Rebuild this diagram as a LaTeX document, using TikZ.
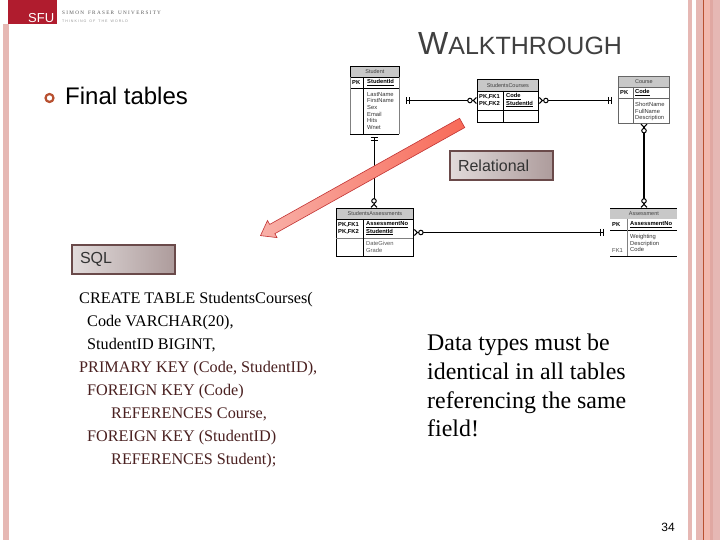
\documentclass[tikz,border=0pt]{standalone}
\usepackage{fontspec}
\setmainfont{Liberation Sans}
\newfontfamily\serifcode{Liberation Serif}
\usepackage{tikz}
\usetikzlibrary{shapes.arrows,arrows.meta,positioning,calc}

\definecolor{sfured}{HTML}{B01C2E}
\definecolor{stripe}{HTML}{E6B8B4}
\definecolor{stripelight}{HTML}{F2B8AE}
\definecolor{stripedark}{HTML}{E0A8A2}
\definecolor{stripeline}{HTML}{B85030}
\definecolor{labelline}{HTML}{6A4A4A}
\definecolor{headgray}{HTML}{C8C8C8}
\definecolor{salmonstart}{HTML}{F8B0A8}
\definecolor{salmonend}{HTML}{F86A58}
\definecolor{codebrown}{HTML}{4A2020}

\tikzset{
  onefoot/.tip={Bar[width=7pt,sep=1.5pt]Bar[width=7pt,sep=6pt]},
  onenear/.tip={Bar[width=7pt,sep=1.5pt]Bar[width=7pt,sep=3pt]},
  manyfoot/.tip={Circle[open,fill=white,length=5.5pt,width=5.5pt,line width=1pt]Straight Barb[reversed,length=3pt,width=6pt,line width=1.1pt]},
}

\begin{document}
\begin{tikzpicture}[
  x=1pt, y=-1pt,
  tabhead/.style={rectangle, draw=black, line width=0.8pt, fill=headgray, anchor=north west, inner sep=0pt, font=\fontsize{5.5}{6}\selectfont, text=black!75},
  tabkey/.style={font=\fontsize{5.8}{7.2}\selectfont, inner sep=0pt, anchor=west, align=left},
  tabtxt/.style={font=\fontsize{5.8}{6.7}\selectfont, inner sep=0pt, anchor=north west, align=left, text=black!80},
  tabline/.style={line width=0.8pt},
  labelbox/.style={rectangle, draw=labelline, line width=2pt, left color=labelline!20, right color=labelline!55!white, anchor=north west, text width=87pt, inner xsep=8pt, inner ysep=0pt, minimum height=29pt, align=left, font=\fontsize{16}{18}\selectfont, text=black!80},
  link/.style={line width=1.2pt},
]
  % slide background
  \path[use as bounding box] (0,0) rectangle (720,540);
  \fill[white] (0,0) rectangle (720,540);
  \fill[stripe] (3,24) rectangle (9,540);
  \fill[stripe] (688,0) rectangle (692,540);
  \fill[stripe] (696,0) rectangle (720,540);
  \fill[stripelight] (703,0) rectangle (710,540);
  \fill[stripedark] (710,0) rectangle (713,540);
  \draw[stripeline, line width=0.7pt] (703,0) -- (703,540);

  % logo
  \node[rectangle, fill=sfured, anchor=north west, minimum width=49pt, minimum height=24pt, inner sep=0pt] (logo) at (8,0) {};
  \node[anchor=south east, text=white, font=\fontsize{13}{15}\selectfont, inner sep=0pt] (sfu) at ([xshift=-3pt,yshift=1.5pt]logo.south east) {SFU};
  \node[anchor=west, text=black!65, font=\serifcode\fontsize{5.2}{6}\selectfont, inner sep=0pt] (sfuname) at (62,12.5) {S I M O N \ \ F R A S E R \ \ U N I V E R S I T Y};
  \node[anchor=west, text=black!40, font=\fontsize{3.6}{4}\selectfont, inner sep=0pt] (sfusub) at (62,21.5) {T H I N K I N G \ \ O F \ \ T H E \ \ W O R L D};

  % title and bullet
  \node[anchor=base west, inner sep=0pt, text=black!75] (title) at (418,55) {\fontsize{32}{34}\selectfont W\fontsize{25}{34}\selectfont ALKTHROUGH};
  \node[circle, draw=stripeline, line width=2.2pt, minimum size=8pt, inner sep=0pt] (bullet) at (49.5,98) {};
  \node[anchor=base west, inner sep=0pt, font=\fontsize{24}{28}\selectfont] (final) at (65,105) {Final tables};

  % Student table
  \node[tabhead, minimum width=49pt, minimum height=11pt] (student) at (350,66) {Student};
  \node[rectangle, anchor=north west, minimum width=49pt, minimum height=57pt, inner sep=0pt] (studentb) at (350,77) {};
  \draw[tabline] (studentb.south west) -- (studentb.south east);
  \draw[tabline] (350,88) -- (399,88);
  \draw[tabline] (363,77) -- (363,134);
  \draw[tabline,black!50] (350,77) -- (350,134) (399,77) -- (399,134);
  \node[tabkey] (studentpk) at (352,82.5) {\textbf{PK}};
  \node[tabkey] (studentid) at (367,82.5) {\textbf{\underline{StudentId}}};
  \node[tabtxt] (studentat) at (367,92) {LastName\\FirstName\\Sex\\Email\\Hits\\Wnet};

  % StudentsCourses table
  \node[tabhead, minimum width=61pt, minimum height=12pt] (stucou) at (477,79) {StudentsCourses};
  \node[rectangle, draw=black, line width=0.8pt, anchor=north west, minimum width=61pt, minimum height=31pt, inner sep=0pt] (stucoub) at (477,91) {};
  \draw[tabline] (477,110) -- (538,110);
  \draw[tabline] (503,91) -- (503,122);
  \node[tabkey] (stucoupk) at (479,100.5) {\textbf{PK,FK1}\\\textbf{PK,FK2}};
  \node[tabkey] (stucouid) at (506,100.5) {\textbf{\underline{Code}}\\\textbf{\underline{StudentId}}};

  % Course table
  \node[tabhead, draw=black!60, minimum width=51pt, minimum height=11pt] (course) at (618,76) {Course};
  \node[rectangle, draw=black!60, line width=0.6pt, anchor=north west, minimum width=51pt, minimum height=36pt, inner sep=0pt] (courseb) at (618,87) {};
  \draw[black!60, line width=0.6pt] (618,98) -- (669,98) (633,87) -- (633,123);
  \node[tabkey] (coursepk) at (620,92.5) {\textbf{PK}};
  \node[tabkey] (codeid) at (635,92.5) {\textbf{\underline{Code}}};
  \node[tabtxt] (courseat) at (635,102) {ShortName\\FullName\\Description};

  % StudentsAssessments table
  \node[tabhead, minimum width=77pt, minimum height=11pt] (stuass) at (336,208) {StudentsAssessments};
  \node[rectangle, draw=black, line width=0.8pt, anchor=north west, minimum width=77pt, minimum height=37pt, inner sep=0pt] (stuassb) at (336,219) {};
  \draw[tabline, black!50] (336,238) -- (413,238);
  \draw[tabline] (363,219) -- (363,256);
  \node[tabkey] (stuasspk) at (338,228.5) {\textbf{PK,FK1}\\\textbf{PK,FK2}};
  \node[tabkey] (stuassid) at (366,228.5) {\textbf{\underline{AssessmentNo}}\\\textbf{\underline{StudentId}}};
  \node[tabtxt, text=black!65] (stuassat) at (366,241) {DateGiven\\Grade};

  % Assessment table
  \node[tabhead, draw=none, minimum width=67pt, minimum height=11pt] (assess) at (610,208) {Assessment};
  \node[rectangle, anchor=north west, minimum width=67pt, minimum height=37pt, inner sep=0pt] (assessb) at (610,219) {};
  \draw[tabline] (610,208) -- (677,208) (610,230) -- (677,230) (610,256) -- (677,256);
  \draw[black!50, line width=0.6pt] (627,219) -- (627,256);
  \node[tabkey] (assesspk) at (612,224.5) {\textbf{PK}};
  \node[tabkey] (assessid) at (630,224.5) {\textbf{\underline{AssessmentNo}}};
  \node[tabtxt] (assessat) at (630,234) {Weighting\\Description\\Code};
  \node[tabkey, text=black!70] (assessfk) at (612,251) {FK1};

  % links between tables
  \draw[link, onefoot-manyfoot] (student.east |- 0,100.5) -- (stucou.west |- 0,100.5);
  \draw[link, onefoot-manyfoot] (course.west |- 0,100.5) -- (stucou.east |- 0,100.5);
  \draw[link, line width=0.9pt, onenear-manyfoot] (studentb.south -| 374,0) -- (stuass.north -| 374,0);
  \draw[link, line width=1.8pt, manyfoot-manyfoot] (courseb.south -| 644,0) -- (assess.north -| 644,0);
  \draw[link, line width=1.4pt, onefoot-manyfoot] (assessb.west |- 0,232.5) -- (stuassb.east |- 0,232.5);

  % big arrow and labels
  \node[single arrow, draw=red!70!black!80, line width=0.6pt, left color=salmonstart, right color=salmonend, rotate=209.2, minimum height=231pt, inner xsep=0pt, inner ysep=5pt, single arrow head extend=4.5pt, single arrow tip angle=72] (bigarrow) at (364.5,177.5) {};
  \node[labelbox] (relational) at (449,150) {Relational};
  \node[labelbox] (sql) at (71,243.5) {SQL};

  % code and remark
  \node[anchor=north west, inner sep=0pt, align=left, font=\serifcode\fontsize{16.2}{23}\selectfont, text=black] (code) at (79,292) {CREATE TABLE StudentsCourses(\\
  \hspace*{8pt}Code VARCHAR(20),\\
  \hspace*{8pt}StudentID BIGINT,\\
  \textcolor{codebrown}{PRIMARY KEY (Code, StudentID),}\\
  \hspace*{8pt}\textcolor{codebrown}{FOREIGN KEY (Code)}\\
  \hspace*{32pt}\textcolor{codebrown}{REFERENCES Course,}\\
  \hspace*{8pt}\textcolor{codebrown}{FOREIGN KEY (StudentID)}\\
  \hspace*{32pt}\textcolor{codebrown}{REFERENCES Student);}};
  \node[anchor=north west, inner sep=0pt, align=left, font=\serifcode\fontsize{23.9}{28.7}\selectfont] (remark) at (427,334) {Data types must be\\identical in all tables\\referencing the same\\field!};

  % page number
  \node[anchor=base east, inner sep=0pt, font=\fontsize{12}{14}\selectfont] (pagenum) at (675,531) {34};
\end{tikzpicture}
\end{document}
